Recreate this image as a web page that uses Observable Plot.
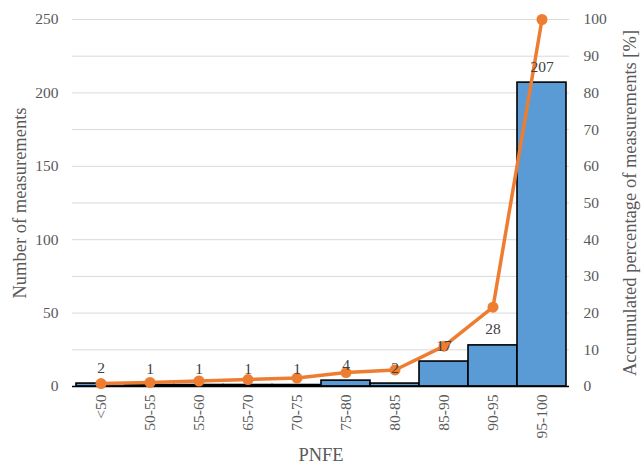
<!DOCTYPE html>
<html><head><meta charset="utf-8">
<script src="https://cdn.jsdelivr.net/npm/d3@7"></script>
<script src="https://cdn.jsdelivr.net/npm/@observablehq/plot@0.6"></script>
<style>
body{margin:0;background:#fff;}
svg{display:block;}
</style>
</head><body><div id="chart"></div>
<script>
const categories = ["<50","50-55","55-60","65-70","70-75","75-80","80-85","85-90","90-95","95-100"];
const counts = [2,1,1,1,1,4,2,17,28,207];
const cumulativePct = [0.8,1.1,1.5,1.9,2.3,3.8,4.5,11.0,21.6,100];
const leftTicks = [0,50,100,150,200,250];
const gridTicks = [0,25,50,75,100,125,150,175,200,225,250];
const rightTicks = [0,10,20,30,40,50,60,70,80,90,100];

const data = categories.map((c,i)=>({cat:c, n:counts[i], pct:cumulativePct[i]}));
const k = 250/100; // right axis maps 0-100% onto 0-250
const FONT = "Liberation Serif";
const blank = () => "";

const chart = Plot.plot({
  width: 641, height: 468,
  marginLeft: 72, marginRight: 72, marginTop: 19, marginBottom: 82,
  style: {fontSize: "15.5px", color: "#595959", background: "#fff", fontFamily: FONT},
  x: {domain: categories, padding: 0},
  y: {domain: [0,250]},
  marks: [
    Plot.gridY(gridTicks, {stroke: "#d9d9d9", strokeOpacity: 1, strokeWidth: 1}),
    Plot.barY(data, {x: "cat", y: "n", fill: "#5B9BD5", stroke: "#000", strokeWidth: 1.6}),
    Plot.ruleY([0], {stroke: "#000", strokeWidth: 1.6}),
    Plot.line(data, {x: "cat", y: d => d.pct*k, stroke: "#ED7D31", strokeWidth: 3.5}),
    Plot.dot(data, {x: "cat", y: d => d.pct*k, fill: "#ED7D31", r: 5.5}),
    Plot.text(data, {x: "cat", y: "n", text: d => String(d.n), dy: -16, fill: "#404040", fontSize: 15.5}),
    Plot.axisY(leftTicks, {anchor: "left", tickSize: 0, tickPadding: 14, fill: "#595959", label: null}),
    Plot.axisY([0], {anchor: "left", tickSize: 0, tickFormat: blank, label: "Number of measurements", labelAnchor: "center", labelOffset: 60, labelArrow: "none", fill: "#595959", fontSize: 18.5}),
    Plot.axisY(rightTicks.map(v=>v*k), {anchor: "right", tickSize: 0, tickPadding: 14, tickFormat: v => String(Math.round(v/k)), fill: "#595959", label: null}),
    Plot.axisY([0], {anchor: "right", tickSize: 0, tickFormat: blank, label: "Accumulated percentage of measurements [%]", labelAnchor: "center", labelOffset: 66, labelArrow: "none", fill: "#595959", fontSize: 18.5}),
    Plot.axisX({tickSize: 0, tickPadding: 8, tickRotate: -90, fill: "#595959", label: null}),
    Plot.axisX({tickSize: 0, tickFormat: blank, label: "PNFE", labelAnchor: "center", labelOffset: 74, labelArrow: "none", fill: "#595959", fontSize: 18.5})
  ]
});
document.getElementById("chart").appendChild(chart);
</script>
</body></html>
